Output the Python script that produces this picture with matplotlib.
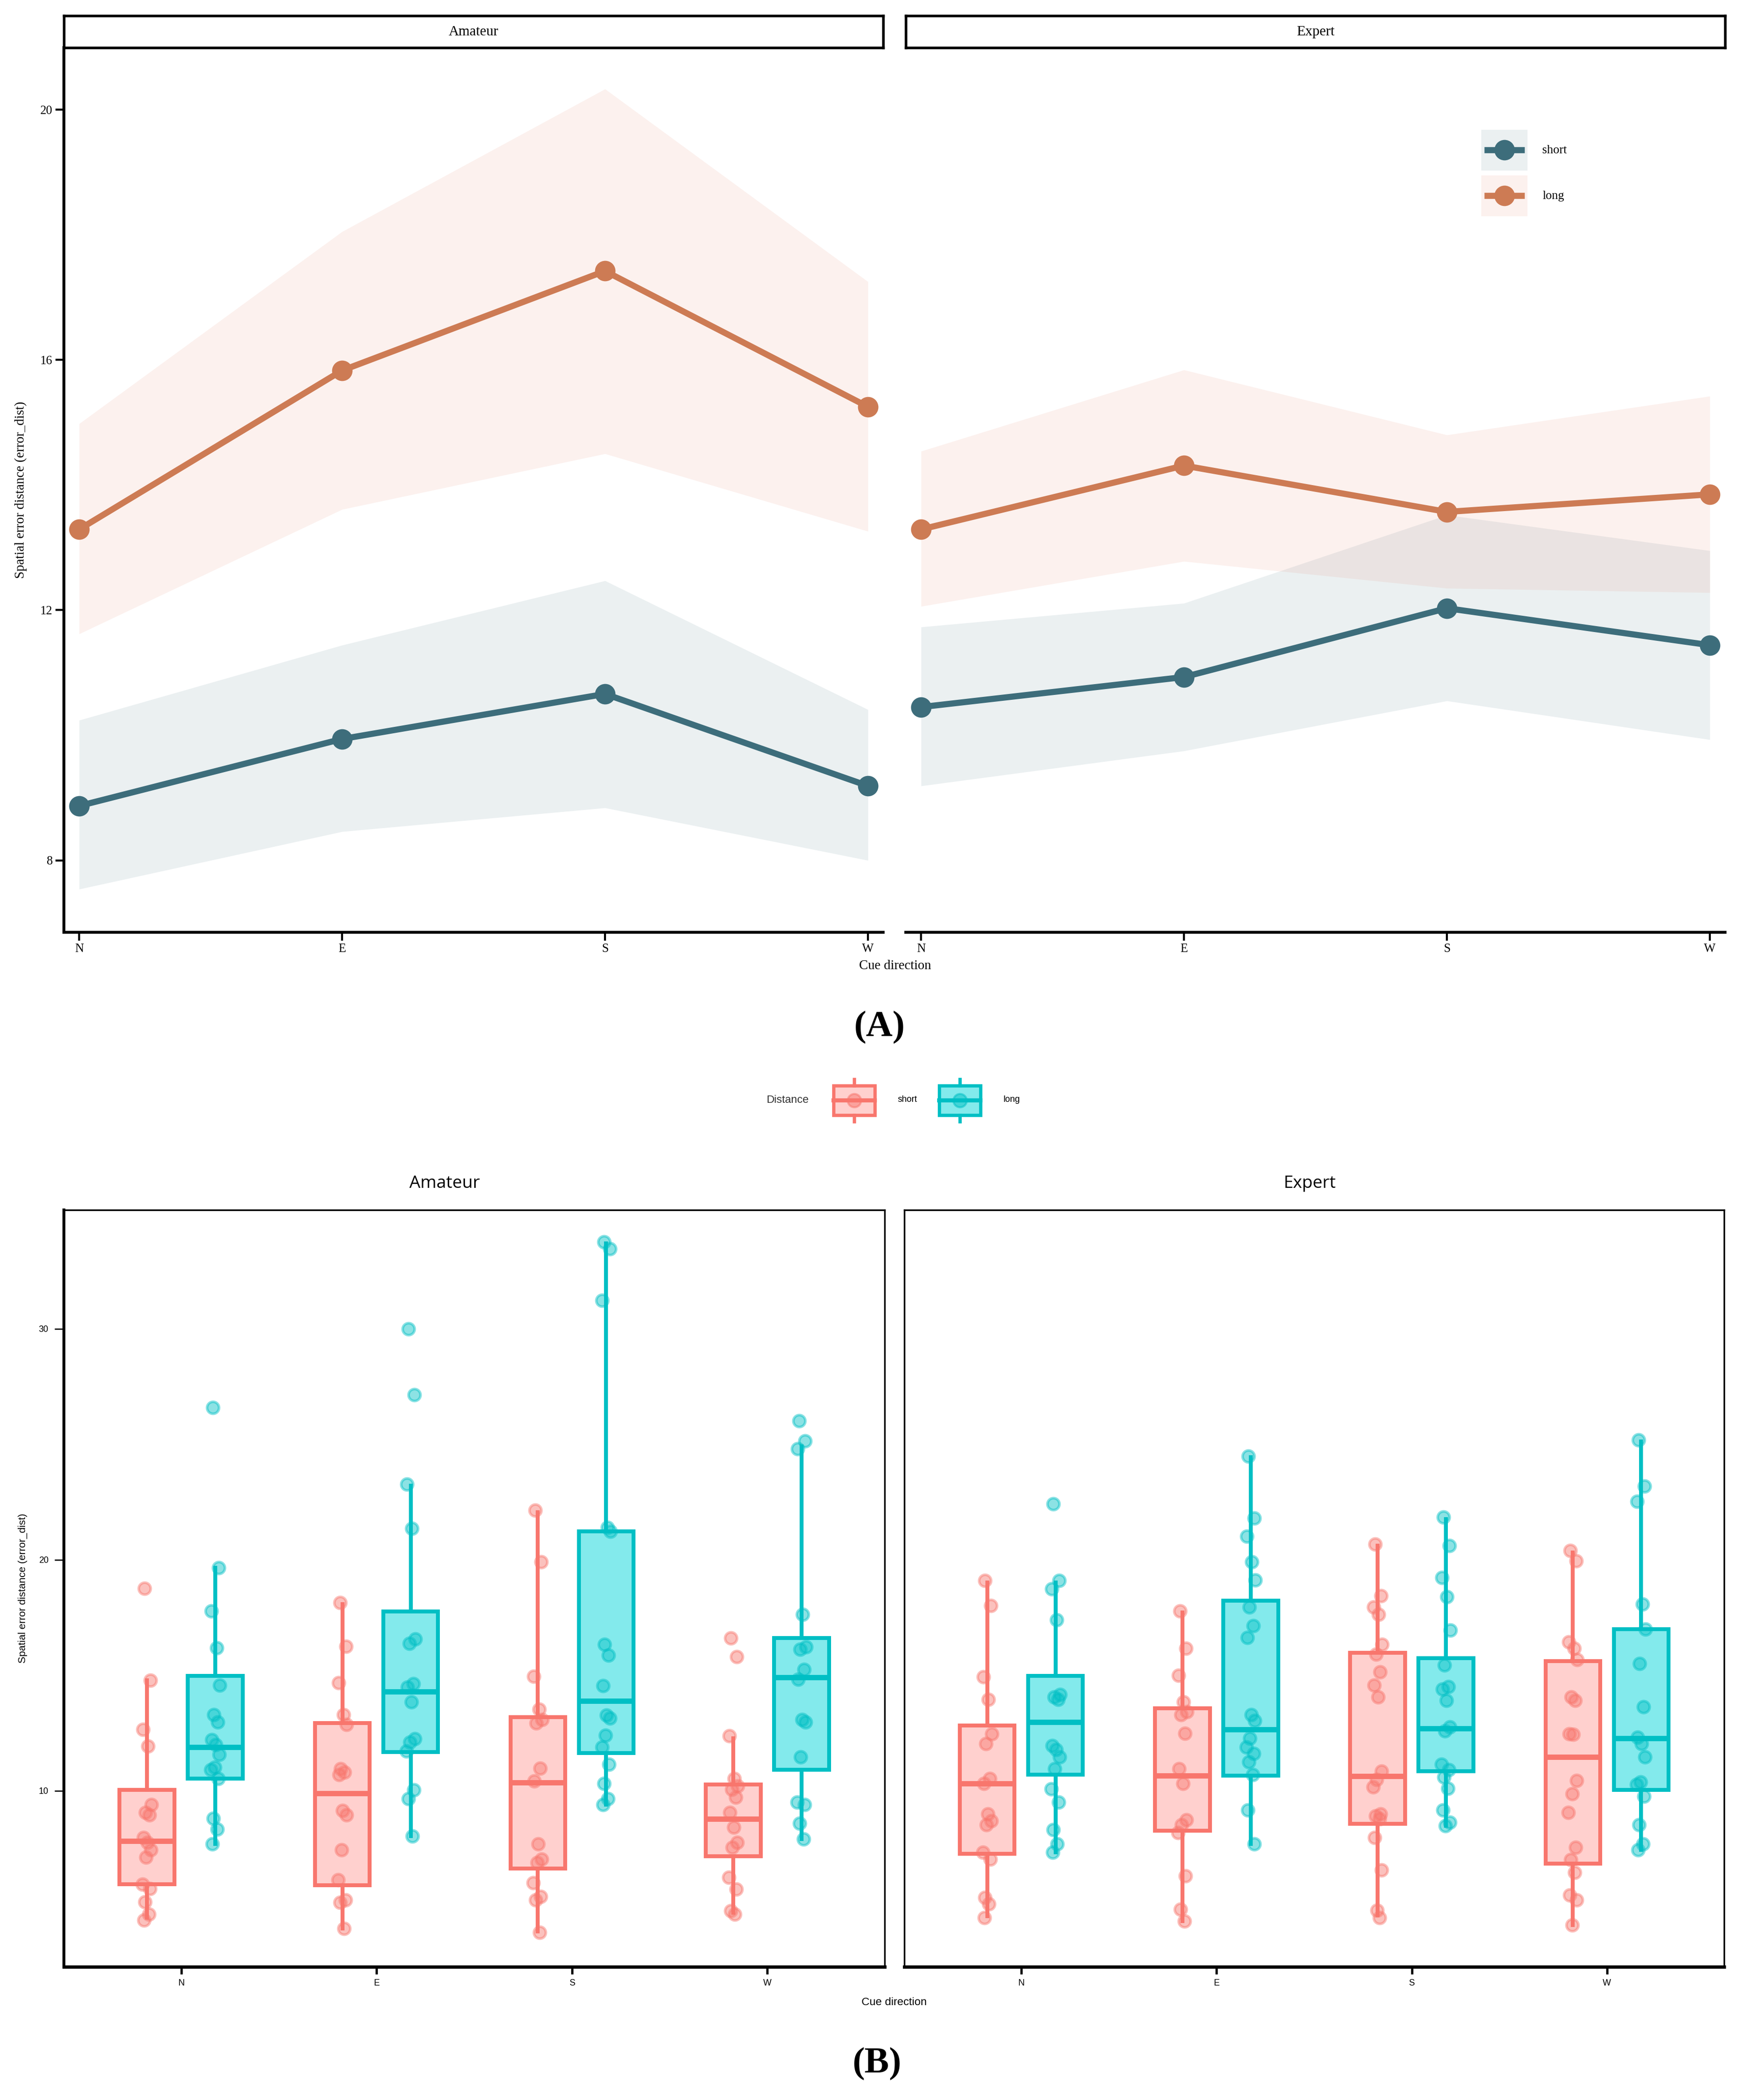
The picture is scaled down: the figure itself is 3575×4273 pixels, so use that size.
import matplotlib
matplotlib.use('Agg')
import matplotlib.pyplot as plt
from matplotlib.lines import Line2D
from matplotlib.patches import Rectangle, Patch
from matplotlib.legend_handler import HandlerBase
import numpy as np

# ---------------- data ----------------
directions = ['N', 'E', 'S', 'W']
facets = ['Amateur', 'Expert']

# Panel A: mean and ribbon (lower / upper)
am_short_mean = [8.87, 9.94, 10.66, 9.19]
am_short_low = [7.54, 8.46, 8.84, 8.00]
am_short_high = [10.24, 11.44, 12.47, 10.41]
am_long_mean = [13.29, 15.83, 17.42, 15.25]
am_long_low = [11.62, 13.61, 14.50, 13.26]
am_long_high = [14.98, 18.05, 20.33, 17.25]
ex_short_mean = [10.45, 10.93, 12.03, 11.44]
ex_short_low = [9.19, 9.75, 10.55, 9.93]
ex_short_high = [11.73, 12.11, 13.52, 12.95]
ex_long_mean = [13.29, 14.31, 13.57, 13.85]
ex_long_low = [12.06, 12.78, 12.35, 12.28]
ex_long_high = [14.54, 15.84, 14.80, 15.42]

# Panel B: box statistics (N, E, S, W)
am_short_whislo = [4.50, 4.02, 3.91, 4.71]
am_short_q1 = [5.95, 5.91, 6.63, 7.15]
am_short_med = [7.82, 9.89, 10.36, 8.78]
am_short_q3 = [10.04, 12.93, 13.19, 10.26]
am_short_whishi = [14.77, 18.08, 22.05, 12.26]
am_long_whislo = [7.69, 8.04, 9.39, 7.91]
am_long_q1 = [10.52, 11.67, 11.62, 10.91]
am_long_med = [11.89, 14.28, 13.88, 14.91]
am_long_q3 = [14.97, 17.75, 21.23, 16.60]
am_long_whishi = [19.66, 23.20, 33.70, 24.92]
ex_short_whislo = [4.56, 4.35, 4.61, 4.17]
ex_short_q1 = [7.26, 8.26, 8.56, 6.85]
ex_short_med = [10.30, 10.65, 10.63, 11.45]
ex_short_q3 = [12.82, 13.56, 15.97, 15.62]
ex_short_whishi = [19.01, 17.71, 20.62, 20.31]
ex_long_whislo = [7.32, 7.69, 8.47, 7.43]
ex_long_q1 = [10.69, 10.65, 10.85, 10.04]
ex_long_med = [12.97, 12.65, 12.69, 12.26]
ex_long_q3 = [14.97, 18.23, 15.73, 16.99]
ex_long_whishi = [19.01, 24.45, 21.77, 25.13]

# Panel B: individual observations
am_N_short = [18.77, 14.77, 12.65, 11.93, 9.39, 9.06, 8.95, 7.97, 7.76, 7.43, 7.11, 5.95, 5.75, 5.19, 4.65, 4.39]
am_N_long = [26.59, 19.66, 17.79, 16.19, 14.56, 13.30, 12.97, 12.21, 11.99, 11.56, 11.02, 10.91, 10.52, 8.80, 8.34, 7.69]
am_E_short = [18.14, 16.25, 14.67, 13.30, 12.86, 10.95, 10.80, 10.69, 9.13, 8.95, 7.43, 6.13, 5.26, 5.15, 4.02]
am_E_long = [30.00, 27.14, 23.27, 21.36, 16.56, 16.38, 14.64, 14.49, 13.84, 12.25, 12.10, 11.71, 10.04, 9.65, 8.04]
am_S_short = [22.14, 19.90, 14.95, 13.52, 13.08, 12.93, 10.97, 10.41, 7.69, 7.04, 6.89, 6.02, 5.41, 5.26, 3.85]
am_S_long = [33.76, 33.46, 31.24, 21.40, 21.23, 16.34, 15.86, 14.54, 13.26, 13.15, 12.39, 11.89, 11.13, 10.30, 9.65, 9.39]
am_W_short = [16.62, 15.80, 12.37, 10.52, 10.20, 10.05, 9.72, 9.06, 8.41, 7.76, 7.54, 6.24, 5.74, 4.79, 4.65]
am_W_long = [26.01, 25.14, 24.81, 17.64, 16.23, 16.12, 15.25, 14.82, 13.08, 12.97, 11.45, 9.50, 9.39, 8.58, 7.91]
ex_N_short = [19.10, 18.02, 14.93, 13.95, 12.47, 12.04, 10.52, 10.30, 9.00, 8.69, 8.52, 7.32, 7.04, 5.37, 5.09, 4.50]
ex_N_long = [22.42, 19.10, 18.73, 17.39, 14.17, 14.06, 13.95, 11.95, 11.78, 11.45, 10.95, 10.08, 9.50, 8.30, 7.69, 7.32]
ex_E_short = [17.79, 16.16, 14.99, 13.84, 13.41, 13.30, 12.49, 10.95, 10.30, 8.73, 8.52, 8.19, 6.30, 4.87, 4.35]
ex_E_long = [24.49, 21.81, 21.01, 19.92, 19.12, 17.95, 17.14, 16.64, 13.30, 13.04, 12.26, 11.89, 11.61, 11.24, 10.69, 9.17, 7.69]
ex_S_short = [20.68, 18.44, 17.95, 17.64, 16.34, 15.90, 15.14, 14.56, 14.06, 10.84, 10.47, 10.15, 9.00, 8.91, 8.78, 7.97, 6.56, 4.82, 4.50]
ex_S_long = [21.84, 20.62, 19.23, 18.40, 16.95, 15.43, 14.50, 14.39, 13.91, 12.76, 12.58, 11.13, 10.91, 10.58, 10.10, 9.17, 8.63, 8.48]
ex_W_short = [20.40, 19.96, 16.44, 16.16, 15.68, 14.06, 13.91, 12.47, 12.43, 10.43, 9.87, 9.06, 7.54, 7.00, 6.45, 5.48, 5.26, 4.17]
ex_W_long = [25.18, 23.18, 22.53, 18.08, 16.99, 15.51, 13.62, 12.32, 12.04, 11.45, 10.37, 10.26, 9.76, 8.52, 7.69, 7.43]

# ---------------- style ----------------
C_SHORT_A = '#3D6D7B'
C_LONG_A = '#CD7B54'
R_SHORT_A = '#3D6D7B'
R_LONG_A = '#E2785E'
C_RED = '#F8766D'
C_CYAN = '#00BFC4'
F_RED = '#FFD0CE'
F_CYAN = '#83EAEC'
SERIF = ['Liberation Serif', 'DejaVu Serif']
SANS = ['Liberation Sans', 'DejaVu Sans']
TITLE_SANS = ['Open Sans', 'Liberation Sans', 'DejaVu Sans']
JITTER = [-0.012, 0.018, -0.020, 0.006, 0.022, -0.008, 0.012, -0.017, 0.002,
          0.020, -0.004, -0.022, 0.015, -0.011, 0.009, -0.015, 0.019, -0.002, 0.010]

W, H, DPI = 3575, 4273, 300
fig = plt.figure(figsize=(W / DPI, H / DPI), dpi=DPI)
fig.patch.set_facecolor('white')


def rect(l, t, r, b):
    return [l / W, 1 - b / H, (r - l) / W, (b - t) / H]


def hh(target_px, font_px):
    # legend handleheight giving a handle box of target_px height
    return (target_px / font_px - 0.245) / 0.65


class HandlerRibbonKey(HandlerBase):
    """Ribbon-coloured square with a line + point centred in it."""
    def __init__(self, fill_colors):
        super().__init__()
        self.fill_colors = fill_colors

    def create_artists(self, legend, orig_handle, xdescent, ydescent, width, height, fontsize, trans):
        col = orig_handle.get_color()
        fill = self.fill_colors[orig_handle.get_label()]
        x0, y0 = -xdescent, -ydescent
        cy = y0 + height / 2
        bg = Rectangle((x0, y0), width, height, facecolor=fill, alpha=0.1, lw=0, transform=trans)
        ln = Line2D([x0 + 0.06 * width, x0 + 0.94 * width], [cy, cy], color=col,
                    lw=orig_handle.get_linewidth(), solid_capstyle='butt', transform=trans)
        mk = Line2D([x0 + width / 2], [cy], marker='o', ms=orig_handle.get_markersize(),
                    color=col, ls='none', transform=trans)
        return [bg, ln, mk]


# ================= Panel A =================
A_means = [(am_short_mean, am_short_low, am_short_high, am_long_mean, am_long_low, am_long_high),
           (ex_short_mean, ex_short_low, ex_short_high, ex_long_mean, ex_long_low, ex_long_high)]
A_rects = [(130, 97, 1797, 1897), (1843, 97, 3510, 1897)]
axA = []
for k, (l, t, r, b) in enumerate(A_rects):
    ax = fig.add_axes(rect(l, t, r, b))
    axA.append(ax)
    sm, sl, sh, lm, ll, lh = A_means[k]
    x = np.arange(len(directions))
    ax.fill_between(x, sl, sh, color=R_SHORT_A, alpha=0.1, lw=0, zorder=1)
    ax.fill_between(x, ll, lh, color=R_LONG_A, alpha=0.1, lw=0, zorder=1)
    ax.plot(x, sm, color=C_SHORT_A, lw=3.0, marker='o', ms=9, zorder=3)
    ax.plot(x, lm, color=C_LONG_A, lw=3.0, marker='o', ms=9, zorder=3)
    ax.set_xlim(-0.058, 3.058)
    ax.set_ylim(6.85, 20.99)
    ax.set_xticks(x)
    ax.set_xticklabels(directions, fontfamily=SERIF)
    ax.set_yticks([8, 12, 16, 20])
    ax.set_yticklabels(['8', '12', '16', '20'], fontfamily=SERIF)
    ax.tick_params(axis='both', direction='out', length=4, width=1.0, labelsize=6, pad=1.5, color='black')
    for s in ['top', 'right']:
        ax.spines[s].set_visible(False)
    ax.spines['bottom'].set_linewidth(1.4)
    ax.spines['left'].set_linewidth(1.4)
    if k == 1:
        ax.spines['left'].set_visible(False)
        ax.tick_params(axis='y', left=False, labelleft=False)
    ax.set_facecolor('white')
    # strip
    sax = fig.add_axes(rect(l, 32, r, 97))
    sax.set_xticks([]); sax.set_yticks([])
    for s in sax.spines.values():
        s.set_linewidth(1.3)
    sax.text(0.5, 0.5, facets[k], ha='center', va='center', fontsize=7, fontfamily=SERIF,
             transform=sax.transAxes)

fig.text(1821 / W, 1 - 1966 / H, 'Cue direction', ha='center', va='center', fontsize=6.5, fontfamily=SERIF)
fig.text(42 / W, 1 - 997 / H, 'Spatial error distance (error_dist)', ha='center', va='center',
         rotation=90, fontsize=6.5, fontfamily=SERIF)

legA_handles = [Line2D([], [], color=C_SHORT_A, lw=3.0, marker='o', ms=9, label='short'),
                Line2D([], [], color=C_LONG_A, lw=3.0, marker='o', ms=9, label='long')]
fig.legend(legA_handles, ['short', 'long'], loc='upper left',
           handler_map={Line2D: HandlerRibbonKey({'short': R_SHORT_A, 'long': R_LONG_A})},
           bbox_to_anchor=(3014 / W, 1 - 264 / H), frameon=False,
           prop={'family': SERIF, 'size': 6}, handlelength=3.76, handleheight=hh(83, 25),
           labelspacing=0.4, handletextpad=1.2, borderpad=0, borderaxespad=0)

fig.text(1790 / W, 1 - 2090 / H, '(A)', ha='center', va='center', fontsize=18,
         fontweight='bold', fontfamily=SERIF)

# ================= Panel B =================
B_stats = [
    ((am_short_whislo, am_short_q1, am_short_med, am_short_q3, am_short_whishi),
     (am_long_whislo, am_long_q1, am_long_med, am_long_q3, am_long_whishi)),
    ((ex_short_whislo, ex_short_q1, ex_short_med, ex_short_q3, ex_short_whishi),
     (ex_long_whislo, ex_long_q1, ex_long_med, ex_long_q3, ex_long_whishi)),
]
B_points = [
    ((am_N_short, am_E_short, am_S_short, am_W_short), (am_N_long, am_E_long, am_S_long, am_W_long)),
    ((ex_N_short, ex_E_short, ex_S_short, ex_W_short), (ex_N_long, ex_E_long, ex_S_long, ex_W_long)),
]
B_rects = [(130, 2462, 1800, 4002), (1840, 2462, 3508, 4002)]
DODGE = 0.175
BOXW = 0.28
for k, (l, t, r, b) in enumerate(B_rects):
    ax = fig.add_axes(rect(l, t, r, b))
    for g, (edge, fill) in enumerate([(C_RED, F_RED), (C_CYAN, F_CYAN)]):
        lo, q1, med, q3, hi = B_stats[k][g]
        stats = [dict(whislo=lo[i], q1=q1[i], med=med[i], q3=q3[i], whishi=hi[i])
                 for i in range(len(directions))]
        pos = [i + (DODGE if g == 1 else -DODGE) for i in range(len(directions))]
        ax.bxp(stats, positions=pos, widths=BOXW, showcaps=False, showfliers=False,
               patch_artist=True,
               boxprops=dict(facecolor=fill, edgecolor=edge, linewidth=1.9),
               whiskerprops=dict(color=edge, linewidth=1.9),
               medianprops=dict(color=edge, linewidth=2.6),
               zorder=2)
        for i in range(len(directions)):
            vals = B_points[k][g][i]
            xs = [pos[i] + JITTER[j % len(JITTER)] for j in range(len(vals))]
            ax.scatter(xs, vals, s=34, color=edge, alpha=0.45, edgecolors=edge,
                       linewidths=1.3, zorder=3)
    ax.set_xlim(-0.6, 3.6)
    ax.set_ylim(2.37, 35.15)
    ax.set_xticks(range(len(directions)))
    ax.set_xticklabels(directions, fontfamily=SANS)
    ax.set_yticks([10, 20, 30])
    ax.set_yticklabels(['10', '20', '30'], fontfamily=SANS)
    ax.tick_params(axis='x', direction='out', length=3.6, width=1.1, labelsize=4.3, pad=2.5)
    ax.tick_params(axis='y', direction='out', length=4.5, width=0.6, labelsize=4.3, pad=3)
    for s in ['top', 'right', 'left']:
        ax.spines[s].set_linewidth(0.8)
    ax.spines['bottom'].set_linewidth(1.6)
    if k == 0:
        ax.spines['left'].set_linewidth(1.4)
    else:
        ax.tick_params(axis='y', left=False, labelleft=False)

fig.text(905 / W, 1 - 2408 / H, 'Amateur', ha='center', va='center', fontsize=8.5, fontfamily=TITLE_SANS)
fig.text(2665 / W, 1 - 2408 / H, 'Expert', ha='center', va='center', fontsize=8.5, fontfamily=TITLE_SANS)
fig.text(1819 / W, 1 - 4074 / H, 'Cue direction', ha='center', va='center', fontsize=5.4, fontfamily=SANS)
fig.text(46 / W, 1 - 3232 / H, 'Spatial error distance (error_dist)', ha='center', va='center',
         rotation=90, fontsize=5.0, fontfamily=SANS)


class HandlerBoxKey(HandlerBase):
    def create_artists(self, legend, orig_handle, xdescent, ydescent, width, height, fontsize, trans):
        ec = orig_handle.get_edgecolor()
        fc = orig_handle.get_facecolor()
        x0, y0 = -xdescent, -ydescent
        bb = y0 + 0.15 * height
        bt = y0 + 0.85 * height
        cx = x0 + width / 2
        cy = y0 + height / 2
        box = Rectangle((x0, bb), width, bt - bb, facecolor=fc, edgecolor=ec, lw=1.6, transform=trans)
        wt = Line2D([cx, cx], [bt, y0 + height], color=ec, lw=1.6, transform=trans)
        wb = Line2D([cx, cx], [y0, bb], color=ec, lw=1.6, transform=trans)
        md = Line2D([x0, x0 + width], [cy, cy], color=ec, lw=2.0, transform=trans)
        pt = Line2D([cx], [cy], marker='o', ms=6.5, ls='none', color=ec, alpha=0.5, transform=trans)
        return [box, wt, wb, md, pt]


fig.text(1559 / W, 1 - 2239 / H, 'Distance', ha='left', va='center', fontsize=5.3, fontfamily=SANS,
         color='#333333')
fig.legend([Patch(facecolor=F_RED, edgecolor=C_RED), Patch(facecolor=F_CYAN, edgecolor=C_CYAN)],
           ['short', 'long'], handler_map={Patch: HandlerBoxKey()}, ncol=2,
           loc='center left', bbox_to_anchor=(1696 / W, 1 - 2239 / H), frameon=False,
           prop={'family': SANS, 'size': 4.3}, handlelength=4.7, handleheight=hh(86, 18),
           handletextpad=2.6, columnspacing=2.5, borderpad=0, borderaxespad=0)

fig.text(1785 / W, 1 - 4199 / H, '(B)', ha='center', va='center', fontsize=18,
         fontweight='bold', fontfamily=SERIF)

fig.savefig('out.png', dpi=DPI, facecolor='white')
